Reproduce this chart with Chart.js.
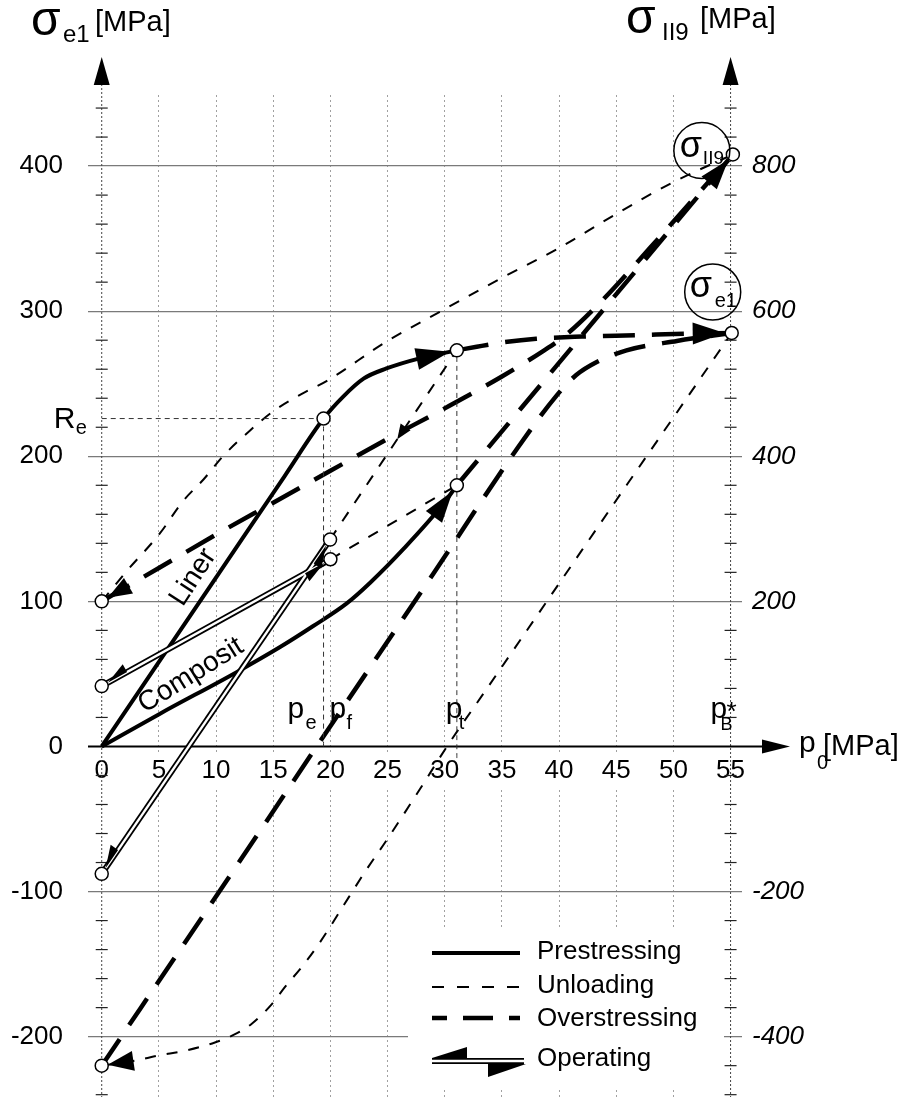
<!DOCTYPE html>
<html>
<head>
<meta charset="utf-8">
<script src="https://cdn.jsdelivr.net/npm/chart.js@4.4.1/dist/chart.umd.min.js"></script>
<style>
  html, body { margin: 0; padding: 0; background: #fff; }
</style>
</head>
<body>
<canvas id="grafico" width="913" height="1105"></canvas>
<script>
const FUENTE = '"Liberation Sans", Arial, Helvetica, sans-serif';

// ejes
const xMin = -1.2, xMax = 56;
const yMin = -241.6, yMax = 449;
const xTicks = [0, 5, 10, 15, 20, 25, 30, 35, 40, 45, 50, 55];
const leftTicks = [-200, -100, 0, 100, 200, 300, 400];
const rightTicks = [-400, -200, 200, 400, 600, 800];
const minorTicks = [-240, -220, -180, -160, -140, -120, -80, -60, -40, -20, 20, 40, 60, 80,
                    120, 140, 160, 180, 220, 240, 260, 280, 320, 340, 360, 380, 420, 440];

// presiones caracteristicas y limite elastico
const pE = 19.4, pT = 31.06, Re = 226;

// Prestressing (liner y composite)
const linerX = [0, 9.7, 16, 19.4, 21.1, 22.9, 24.9, 27.8, 31.06];
const linerY = [0, 113, 186.4, 226, 241, 253.5, 260.5, 267.5, 273];
const compX = [0, 5.1, 11.8, 15.6, 18.5, 21.4, 23.5, 26.5, 29.9, 31.06];
const compY = [0, 22.6, 51.2, 68.5, 83, 98.4, 113, 137, 167.4, 180];

// Unloading
const unl1X = [0, 2.2, 5.1, 7.1, 8.9, 10.6, 13, 15, 17.5, 19.7, 24.9, 29.9, 35, 40.1, 45, 50, 55.2];
const unl1Y = [100, 121, 147, 169, 184, 200, 218, 231, 243, 252, 279, 301, 323, 344, 367, 389, 408];
const unl2X = [19.97, 31.06];
const unl2Y = [142.6, 273];
const unl3X = [20, 31.06];
const unl3Y = [129, 180];
const unl4X = [0, 2.9, 4.95, 7.3, 9.9, 11.4, 13.1, 14.9, 16, 17.5, 19, 21.6, 23, 24.9, 27.85, 30.2, 33.7, 39.8, 45.9, 50.9, 55.1];
const unl4Y = [-220, -216.6, -213, -209.7, -204, -199.3, -191.3, -177.4, -166, -152, -136, -104, -86.7, -64.8, -29.2, 0, 40, 110, 180, 237, 285];

// Overstressing
const ov1X = [31.06, 32.8, 35.1, 38, 42, 46.8, 51, 55.1];
const ov1Y = [273, 275.5, 278.5, 281, 282.5, 283.5, 284.5, 285];
const ov2X = [0, 10.2, 18.8, 29, 36.4, 39.8, 41.5, 43.3, 45.9, 50.3, 55.1];
const ov2Y = [-220, -101, 0, 119, 206, 242, 256, 265, 273, 279.5, 285];
const ov3X = [0, 5, 10, 15, 20, 25, 30, 35, 38.5, 40.5, 43.6, 48, 55.2];
const ov3Y = [100, 123, 146, 168, 190, 212, 233, 255, 272, 283, 306, 344, 408];
const ov4X = [31.06, 55.2];
const ov4Y = [180, 408];

// Operating
const op1X = [0, 19.97];
const op1Y = [-87.8, 142.6];
const op2X = [0, 20];
const op2Y = [41.6, 129];

// puntos marcados con circulo
const ptsX = [19.4, 31.06, 0, 0, 19.97, 20, 31.06, 0, 0, 55.2, 55.1];
const ptsY = [226, 273, 100, 41.6, 142.6, 129, 180, -87.8, -220, 408, 285];

function serie(xs, ys, estilo) {
    return Object.assign({
        data: xs.map((x, i) => ({ x: x, y: ys[i] })),
        showLine: true,
        pointRadius: 0,
        borderColor: '#000',
        backgroundColor: '#000',
        borderWidth: 2,
        fill: false,
        cubicInterpolationMode: 'monotone',
        order: 3
    }, estilo);
}

const pre = { borderWidth: 4 };
const unl = { borderWidth: 2, borderDash: [11, 11] };
const ove = { borderWidth: 4.5, borderDash: [32, 17] };
const guia = { borderWidth: 1, borderDash: [5, 4], borderColor: '#333' };
const opNegro = { borderWidth: 6, order: 2 };
const opBlanco = { borderWidth: 2.4, borderColor: '#fff', order: 1 };

const datasets = [
    serie([0, pE], [Re, Re], guia),
    serie([pE, pE], [0, Re], guia),
    serie([pT, pT], [-8, 273], guia),
    serie(linerX, linerY, pre),
    serie(compX, compY, pre),
    serie(unl1X, unl1Y, unl),
    serie(unl2X, unl2Y, unl),
    serie(unl3X, unl3Y, unl),
    serie(unl4X, unl4Y, unl),
    serie(ov1X, ov1Y, ove),
    serie(ov2X, ov2Y, ove),
    serie(ov3X, ov3Y, ove),
    serie(ov4X, ov4Y, ove),
    serie(op1X, op1Y, opNegro),
    serie(op2X, op2Y, opNegro),
    serie(op1X, op1Y, opBlanco),
    serie(op2X, op2Y, opBlanco),
    {
        data: ptsX.map((x, i) => ({ x: x, y: ptsY[i] })),
        showLine: false,
        pointRadius: 6.5,
        pointBorderWidth: 1.5,
        pointBackgroundColor: '#fff',
        pointBorderColor: '#000',
        order: 0
    }
];

// flechas: serie, extremo, retroceso (px), largo, semiancho, medio lado
const flechas = [
    { xs: linerX, ys: linerY, fin: true, atras: 7, largo: 34, ancho: 11 },
    { xs: compX, ys: compY, fin: true, atras: 7, largo: 32, ancho: 10 },
    { xs: ov1X, ys: ov1Y, fin: true, atras: 7, largo: 32, ancho: 11 },
    { xs: ov4X, ys: ov4Y, fin: true, atras: 7, largo: 30, ancho: 10 },
    { xs: ov3X, ys: ov3Y, fin: false, atras: 7, largo: 24, ancho: 9 },
    { xs: unl4X, ys: unl4Y, fin: false, atras: 6, largo: 26, ancho: 10 },
    { xs: op1X, ys: op1Y, fin: false, atras: 7, largo: 22, ancho: 9, lado: 1 },
    { xs: op1X, ys: op1Y, fin: true, atras: 7, largo: 22, ancho: 9, lado: 1 },
    { xs: op2X, ys: op2Y, fin: false, atras: 7, largo: 22, ancho: 9, lado: 1 },
    { xs: op2X, ys: op2Y, fin: true, atras: 7, largo: 22, ancho: 9, lado: 1 }
];

function flecha(ctx, tip, from, largo, ancho, lado) {
    const dx = tip.x - from.x, dy = tip.y - from.y;
    const d = Math.hypot(dx, dy);
    const ux = dx / d, uy = dy / d;
    const nx = -uy, ny = ux;
    const bx = tip.x - ux * largo, by = tip.y - uy * largo;
    ctx.beginPath();
    ctx.moveTo(tip.x, tip.y);
    if (lado) {
        ctx.lineTo(bx + nx * ancho * lado, by + ny * ancho * lado);
        ctx.lineTo(bx, by);
    } else {
        ctx.lineTo(bx + nx * ancho, by + ny * ancho);
        ctx.lineTo(bx - nx * ancho, by - ny * ancho);
    }
    ctx.closePath();
    ctx.fill();
}

function texto(ctx, s, x, y, size, italic) {
    ctx.font = (italic ? 'italic ' : '') + size + 'px ' + FUENTE;
    ctx.fillText(s, x, y);
}

// sin relleno extra de las etiquetas en los ejes verticales
function ajustarEjeY(ancho) {
    return (s) => {
        s.width = ancho;
        s.paddingTop = 0;
        s.paddingBottom = 0;
    };
}

const dibujo = {
    id: 'dibujo',
    beforeDatasetsDraw(chart) {
        const ctx = chart.ctx;
        const sx = chart.scales.x, sy = chart.scales.y, area = chart.chartArea;
        ctx.save();
        // hueco blanco para la leyenda
        ctx.fillStyle = '#fff';
        ctx.fillRect(408, 928, 316, 160);

        // ejes verticales punteados con marcas menores
        [0, 55].forEach(v => {
            const x = sx.getPixelForValue(v);
            ctx.strokeStyle = '#444';
            ctx.lineWidth = 1;
            ctx.setLineDash([2, 2]);
            ctx.beginPath();
            ctx.moveTo(x, 84);
            ctx.lineTo(x, area.bottom);
            ctx.stroke();
            ctx.setLineDash([]);
            ctx.strokeStyle = '#222';
            ctx.lineWidth = 1.2;
            minorTicks.forEach(t => {
                const y = sy.getPixelForValue(t);
                ctx.beginPath();
                ctx.moveTo(x - 6, y);
                ctx.lineTo(x + 6, y);
                ctx.stroke();
            });
            ctx.fillStyle = '#000';
            ctx.beginPath();
            ctx.moveTo(x, 57);
            ctx.lineTo(x - 8, 85);
            ctx.lineTo(x + 8, 85);
            ctx.closePath();
            ctx.fill();
        });

        // eje de presiones
        const y0 = sy.getPixelForValue(0);
        ctx.strokeStyle = '#000';
        ctx.lineWidth = 2;
        ctx.beginPath();
        ctx.moveTo(area.left, y0);
        ctx.lineTo(766, y0);
        ctx.stroke();
        ctx.fillStyle = '#000';
        ctx.beginPath();
        ctx.moveTo(790, y0);
        ctx.lineTo(762, y0 - 7);
        ctx.lineTo(762, y0 + 7);
        ctx.closePath();
        ctx.fill();
        ctx.restore();
    },
    afterDatasetsDraw(chart) {
        const ctx = chart.ctx;
        const sx = chart.scales.x, sy = chart.scales.y;
        const P = (x, y) => ({ x: sx.getPixelForValue(x), y: sy.getPixelForValue(y) });
        ctx.save();
        ctx.fillStyle = '#000';
        ctx.textBaseline = 'alphabetic';
        ctx.textAlign = 'left';

        // flechas sobre las curvas
        flechas.forEach(f => {
            const n = f.xs.length;
            const iTip = f.fin ? n - 1 : 0;
            const iFrom = f.fin ? n - 2 : 1;
            const a = P(f.xs[iTip], f.ys[iTip]);
            const b = P(f.xs[iFrom], f.ys[iFrom]);
            const d = Math.hypot(a.x - b.x, a.y - b.y);
            const tip = { x: a.x - (a.x - b.x) / d * f.atras, y: a.y - (a.y - b.y) / d * f.atras };
            flecha(ctx, tip, b, f.largo, f.ancho, f.lado);
        });
        // flecha intermedia en la descarga del liner
        const c0 = P(unl2X[1], unl2Y[1]), c1 = P(unl2X[0], unl2Y[0]);
        const mid = { x: c0.x + (c1.x - c0.x) * 0.47, y: c0.y + (c1.y - c0.y) * 0.47 };
        flecha(ctx, mid, c0, 15, 6);

        // etiquetas giradas
        const liner = P(8.0, 116.6);
        ctx.save();
        ctx.translate(liner.x, liner.y);
        ctx.rotate(-57 * Math.PI / 180);
        ctx.textAlign = 'center';
        ctx.textBaseline = 'middle';
        texto(ctx, 'Liner', 0, 0, 28);
        ctx.restore();
        const comp = P(7.8, 49);
        ctx.save();
        ctx.translate(comp.x, comp.y);
        ctx.rotate(-32 * Math.PI / 180);
        ctx.textAlign = 'center';
        ctx.textBaseline = 'middle';
        texto(ctx, 'Composit', 0, 0, 28);
        ctx.restore();

        // Re
        const re = P(0, Re);
        texto(ctx, 'R', re.x - 48, re.y + 9, 30);
        texto(ctx, 'e', re.x - 26, re.y + 15, 20);

        // presiones en el eje
        const y0 = sy.getPixelForValue(0);
        const xe = sx.getPixelForValue(pE);
        texto(ctx, 'p', xe - 36, y0 - 28, 30);
        texto(ctx, 'e', xe - 18, y0 - 17, 20);
        const xf = sx.getPixelForValue(20);
        texto(ctx, 'p', xf - 1, y0 - 28, 30);
        texto(ctx, 'f', xf + 16, y0 - 17, 20);
        const xt = sx.getPixelForValue(pT);
        texto(ctx, 'p', xt - 11, y0 - 28, 30);
        texto(ctx, 't', xt + 2, y0 - 17, 20);
        const xb = sx.getPixelForValue(55);
        texto(ctx, 'p', xb - 20, y0 - 28, 30);
        texto(ctx, 'B', xb - 10, y0 - 16, 18);
        texto(ctx, '*', xb - 4, y0 - 26, 26);

        // p0 [MPa]
        texto(ctx, 'p', 799, y0 + 6, 30);
        texto(ctx, '0', 817, y0 + 23, 20);
        texto(ctx, '[MPa]', 823, y0 + 9, 29);

        // titulos de los ejes
        texto(ctx, 'σ', 31, 35, 48);
        texto(ctx, 'e1', 63, 42, 24);
        texto(ctx, '[MPa]', 95, 31, 29);
        texto(ctx, 'σ', 626, 33, 48);
        texto(ctx, 'II9', 662, 40, 24);
        texto(ctx, '[MPa]', 700, 28, 29);

        // etiquetas circulares
        const ptK = P(55.2, 408), ptL = P(55.1, 285);
        ctx.lineWidth = 1.5;
        ctx.strokeStyle = '#000';
        ctx.beginPath();
        ctx.arc(ptK.x - 31, ptK.y - 4, 28, 0, 2 * Math.PI);
        ctx.stroke();
        texto(ctx, 'σ', ptK.x - 53, ptK.y + 3, 36);
        texto(ctx, 'II9', ptK.x - 30, ptK.y + 10, 19);
        ctx.beginPath();
        ctx.arc(ptL.x - 19, ptL.y - 41, 28, 0, 2 * Math.PI);
        ctx.stroke();
        texto(ctx, 'σ', ptL.x - 42, ptL.y - 36, 36);
        texto(ctx, 'e1', ptL.x - 17, ptL.y - 26, 20);

        // leyenda
        ctx.strokeStyle = '#000';
        ctx.lineWidth = 4;
        ctx.beginPath(); ctx.moveTo(432, 953); ctx.lineTo(520, 953); ctx.stroke();
        ctx.lineWidth = 2;
        ctx.setLineDash([12, 13]);
        ctx.beginPath(); ctx.moveTo(432, 987); ctx.lineTo(520, 987); ctx.stroke();
        ctx.lineWidth = 4.5;
        ctx.setLineDash([30, 16]);
        ctx.lineDashOffset = 15;
        ctx.beginPath(); ctx.moveTo(432, 1018); ctx.lineTo(520, 1018); ctx.stroke();
        ctx.setLineDash([]);
        ctx.lineDashOffset = 0;
        ctx.lineWidth = 6;
        ctx.beginPath(); ctx.moveTo(432, 1061); ctx.lineTo(524, 1061); ctx.stroke();
        ctx.strokeStyle = '#fff';
        ctx.lineWidth = 2.4;
        ctx.beginPath(); ctx.moveTo(430, 1061); ctx.lineTo(526, 1061); ctx.stroke();
        flecha(ctx, { x: 432, y: 1058 }, { x: 520, y: 1058 }, 35, 11, 1);
        flecha(ctx, { x: 526, y: 1064 }, { x: 432, y: 1064 }, 38, 13, 1);
        texto(ctx, 'Prestressing', 537, 959, 26);
        texto(ctx, 'Unloading', 537, 993, 26);
        texto(ctx, 'Overstressing', 537, 1026, 26);
        texto(ctx, 'Operating', 537, 1066, 26);
        ctx.restore();
    }
};

const ctx = document.getElementById('grafico').getContext('2d');
const grafico = new Chart(ctx, {
    type: 'scatter',
    data: { datasets: datasets },
    options: {
        responsive: false,
        animation: false,
        events: [],
        layout: { padding: { top: 95, bottom: 5, left: 0, right: 0 } },
        plugins: { legend: { display: false }, tooltip: { enabled: false } },
        scales: {
            x: {
                type: 'linear',
                position: { y: 0 },
                min: xMin,
                max: xMax,
                afterBuildTicks: (s) => { s.ticks = xTicks.map(v => ({ value: v })); },
                afterFit: (s) => { s.height = 0; },
                grid: {
                    color: (c) => (c.tick && (c.tick.value === 0 || c.tick.value === 55)) ? 'rgba(0,0,0,0)' : '#a0a0a0',
                    lineWidth: 1,
                    drawTicks: false
                },
                border: { display: false, dash: [2, 3] },
                ticks: {
                    font: { family: FUENTE, size: 26 },
                    color: '#000',
                    padding: 9,
                    maxRotation: 0,
                    autoSkip: false,
                    showLabelBackdrop: true,
                    backdropColor: '#fff',
                    backdropPadding: 2
                }
            },
            y: {
                type: 'linear',
                position: 'left',
                min: yMin,
                max: yMax,
                afterBuildTicks: (s) => { s.ticks = leftTicks.map(v => ({ value: v })); },
                afterFit: ajustarEjeY(88),
                grid: {
                    color: (c) => (c.tick && c.tick.value === 0) ? 'rgba(0,0,0,0)' : '#7a7a7a',
                    lineWidth: 1.3,
                    drawTicks: false
                },
                border: { display: false },
                ticks: { font: { family: FUENTE, size: 26 }, color: '#000', padding: 25 }
            },
            y2: {
                type: 'linear',
                position: 'right',
                min: 2 * yMin,
                max: 2 * yMax,
                afterBuildTicks: (s) => { s.ticks = rightTicks.map(v => ({ value: v })); },
                afterFit: ajustarEjeY(171),
                grid: { display: false, drawTicks: false },
                border: { display: false },
                ticks: { font: { family: FUENTE, size: 26, style: 'italic' }, color: '#000', padding: 10 }
            }
        }
    },
    plugins: [dibujo]
});
</script>
</body>
</html>
